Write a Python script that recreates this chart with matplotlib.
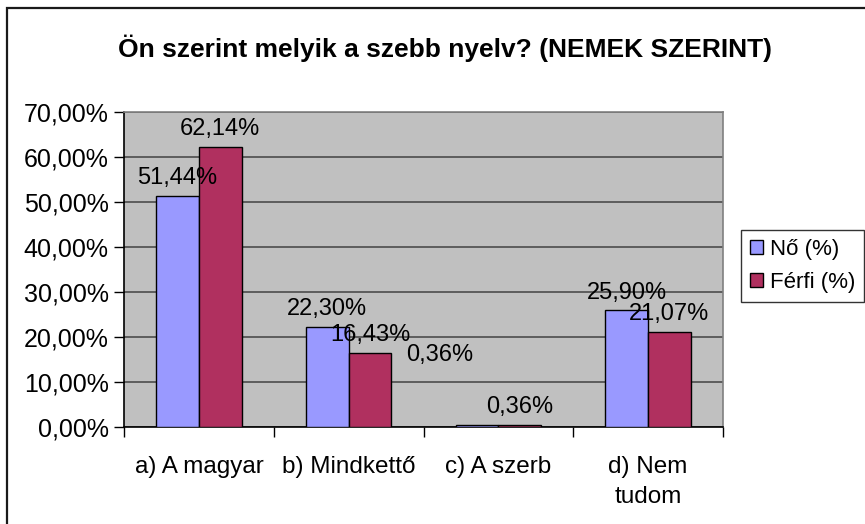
import matplotlib
matplotlib.use("Agg")
import matplotlib.pyplot as plt
import numpy as np
from matplotlib.patches import Rectangle

plt.rcParams['font.family'] = ['Liberation Sans', 'DejaVu Sans']

title = "Ön szerint melyik a szebb nyelv? (NEMEK SZERINT)"
categories = ["a) A magyar", "b) Mindkettő", "c) A szerb", "d) Nem\ntudom"]
series_names = ["Nő (%)", "Férfi (%)"]
no_values = [51.44, 22.30, 0.36, 25.90]
ferfi_values = [62.14, 16.43, 0.36, 21.07]
yticks = [0, 10, 20, 30, 40, 50, 60, 70]

colors = ["#9999FF", "#B0305F"]

W, H = 865, 524
fig = plt.figure(figsize=(W / 100, H / 100), dpi=100)
fig.patch.set_facecolor("white")

# outer chart frame (left and top visible)
fig.add_artist(Rectangle((7.5 / W, -0.1), 1.2, 1 - 7.5 / H + 0.1, transform=fig.transFigure,
                         fill=False, edgecolor="#1a1a1a", linewidth=1.6))

ax = fig.add_axes([124 / W, 1 - 427 / H, (723 - 124) / W, (427 - 112) / H])
ax.set_facecolor("#C0C0C0")

x = np.arange(len(categories))
bw = 0.285
b1 = ax.bar(x - bw / 2, no_values, bw, color=colors[0], edgecolor="black", linewidth=1.0,
            label=series_names[0], zorder=3)
b2 = ax.bar(x + bw / 2, ferfi_values, bw, color=colors[1], edgecolor="black", linewidth=1.0,
            label=series_names[1], zorder=3)

ax.set_xlim(-0.5, len(categories) - 0.5)
ax.set_ylim(0, 70)
ax.set_yticks(yticks)
ax.set_yticklabels([f"{v:.2f}%".replace(".", ",") for v in yticks], fontsize=18)
ax.yaxis.grid(True, color="#555555", linewidth=1.3, zorder=1)
ax.set_axisbelow(True)

ax.set_xticks(x)
ax.set_xticklabels(categories, fontsize=17.5, linespacing=1.45, va="top")
ax.set_xticks(np.arange(len(categories) + 1) - 0.5, minor=True)
ax.tick_params(axis="x", which="major", length=0, pad=21)
ax.tick_params(axis="x", which="minor", length=7, width=1, direction="out", color="black")
ax.tick_params(axis="y", length=7, width=1, direction="out", pad=4)

for s in ["left", "bottom"]:
    ax.spines[s].set_color("black")
    ax.spines[s].set_linewidth(1.2)
for s in ["top", "right"]:
    ax.spines[s].set_color("#808080")
    ax.spines[s].set_linewidth(1.2)

def lab(v):
    return f"{v:.2f}%".replace(".", ",")

for i, (r, v) in enumerate(zip(b1, no_values)):
    dx, dy = 0, 5
    if i == 2:
        dx, dy = -27, 43
    ax.annotate(lab(v), (r.get_x() + r.get_width() / 2, v), xytext=(dx, dy),
                textcoords="offset points", ha="center", va="bottom", fontsize=17, zorder=5)
for r, v in zip(b2, ferfi_values):
    ax.annotate(lab(v), (r.get_x() + r.get_width() / 2, v), xytext=(0, 5),
                textcoords="offset points", ha="center", va="bottom", fontsize=17, zorder=5)

fig.text(445 / W, 1 - 48 / H, title, ha="center", va="center", fontsize=19, fontweight="bold")

leg = fig.legend(handles=[b1, b2], labels=series_names, loc="upper left",
                 bbox_to_anchor=(741 / W, 1 - 230 / H), fontsize=16, frameon=True,
                 fancybox=False, edgecolor="black", handlelength=0.6, handleheight=0.6,
                 handletextpad=0.3, borderpad=0.4, labelspacing=0.55, borderaxespad=0)
leg.get_frame().set_linewidth(1.0)

fig.savefig("out.png", dpi=100)
